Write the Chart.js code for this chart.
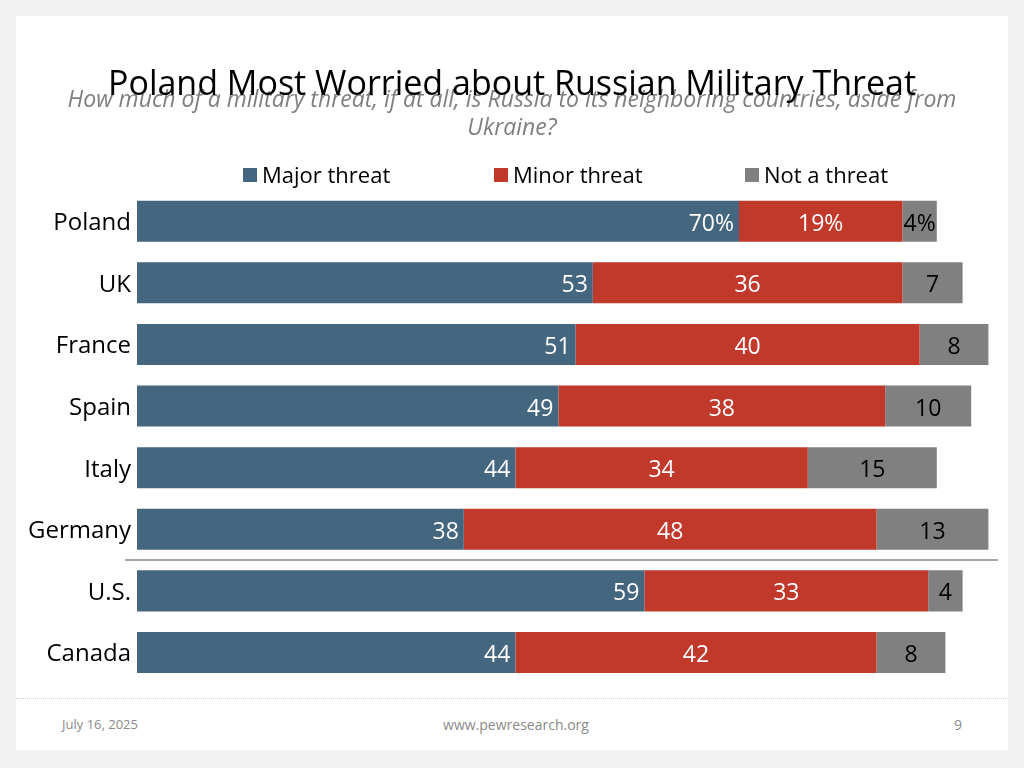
<!DOCTYPE html>
<html>
<head>
<meta charset="utf-8">
<script src="https://cdn.jsdelivr.net/npm/chart.js@4.4.1/dist/chart.umd.min.js"></script>
<style>
  html, body { margin: 0; padding: 0; background: #f2f2f2; }
  body { width: 1024px; height: 768px; position: relative; overflow: hidden; font-family: "Open Sans", sans-serif; }
  #slide { position: absolute; left: 16px; top: 16px; width: 992px; height: 734px; background: #fff; }
  #wrap { position: absolute; left: 0; top: 0; width: 1024px; height: 768px; }
  #rule { position: absolute; left: 16px; top: 698px; width: 992px; border-top: 1px dotted #d0d0d0; }
  .foot { position: absolute; top: 715px; color: #8a8a8a; font-size: 13px; }
</style>
</head>
<body>
<div id="slide"></div>
<div id="rule"></div>
<div class="foot" style="left:62px;">July 16, 2025</div>
<div class="foot" style="left:0; width:1032px; text-align:center; font-size:14px;">www.pewresearch.org</div>
<div class="foot" style="left:954px; font-size:14px;">9</div>
<div id="wrap"><canvas id="threatChart"></canvas></div>
<script>
// --- data ---
const countries = ["Poland", "UK", "France", "Spain", "Italy", "Germany", "U.S.", "Canada"];
const majorThreat = [70, 53, 51, 49, 44, 38, 59, 44];
const minorThreat = [19, 36, 40, 38, 34, 48, 33, 42];
const notThreat = [4, 7, 8, 10, 15, 13, 4, 8];
const seriesNames = ["Major threat", "Minor threat", "Not a threat"];

const BLUE = "#44677f";
const RED = "#c0392b";
const GRAY = "#808080";
const FONT = "'Open Sans', sans-serif";

// value labels inside each segment
const segmentLabels = {
  id: "segmentLabels",
  afterDatasetsDraw(chart) {
    const ctx = chart.ctx;
    ctx.save();
    ctx.font = "23px " + FONT;
    ctx.textBaseline = "middle";
    chart.data.datasets.forEach((ds, di) => {
      chart.getDatasetMeta(di).data.forEach((bar, i) => {
        const txt = ds.data[i] + (i === 0 ? "%" : "");
        const y = bar.y + 3;
        if (di === 0) {
          ctx.textAlign = "right";
          ctx.fillStyle = "#fff";
          ctx.fillText(txt, bar.x - 5, y);
        } else {
          ctx.textAlign = "center";
          ctx.fillStyle = di === 1 ? "#fff" : "#000";
          ctx.fillText(txt, (bar.x + bar.base) / 2, y);
        }
      });
    });
    ctx.restore();
  },
};

// grey rule between Europe and North America
const groupRule = {
  id: "groupRule",
  afterDatasetsDraw(chart) {
    const y = (chart.scales.y.getPixelForValue(5) + chart.scales.y.getPixelForValue(6)) / 2;
    const ctx = chart.ctx;
    ctx.save();
    ctx.strokeStyle = "#a6a6a6";
    ctx.lineWidth = 2;
    ctx.beginPath();
    ctx.moveTo(125, y);
    ctx.lineTo(chart.chartArea.right + 1, y);
    ctx.stroke();
    ctx.restore();
  },
};

// legend with wide, even spacing like the slide
const spacedLegend = {
  id: "spacedLegend",
  afterDraw(chart) {
    const ctx = chart.ctx;
    const startX = [243, 494, 745];
    ctx.save();
    ctx.font = "22px " + FONT;
    ctx.textBaseline = "middle";
    ctx.textAlign = "left";
    chart.data.datasets.forEach((ds, i) => {
      ctx.fillStyle = ds.backgroundColor;
      ctx.fillRect(startX[i], 168, 14, 14);
      ctx.fillStyle = "#000";
      ctx.fillText(ds.label, startX[i] + 19, 177);
    });
    ctx.restore();
  },
};

new Chart(document.getElementById("threatChart"), {
  type: "bar",
  data: {
    labels: countries,
    datasets: [
      { label: seriesNames[0], data: majorThreat, backgroundColor: BLUE },
      { label: seriesNames[1], data: minorThreat, backgroundColor: RED },
      { label: seriesNames[2], data: notThreat, backgroundColor: GRAY },
    ],
  },
  options: {
    indexAxis: "y",
    responsive: true,
    maintainAspectRatio: false,
    animation: false,
    barPercentage: 0.666,
    categoryPercentage: 1,
    layout: { padding: { left: 27, right: 27, top: 0, bottom: 84.7 } },
    scales: {
      x: { stacked: true, min: 0, max: 100, display: false },
      y: {
        stacked: true,
        grid: { display: false, drawTicks: false },
        border: { display: false },
        ticks: { color: "#000", font: { size: 24, family: FONT }, padding: 6, labelOffset: 2 },
        afterFit(scale) { scale.width = 110; },
      },
    },
    plugins: {
      legend: { display: false },
      tooltip: { enabled: false },
      title: {
        display: true,
        text: "Poland Most Worried about Russian Military Threat",
        color: "#000",
        font: { size: 34, family: FONT, weight: "normal", lineHeight: 1.2 },
        padding: { top: 65, bottom: -19 },
      },
      subtitle: {
        display: true,
        text: [
          "How much of a military threat, if at all, is Russia to its neighboring countries, aside from",
          "Ukraine?",
        ],
        color: "#7f7f7f",
        font: { size: 23, family: FONT, style: "italic", lineHeight: 1.22 },
        padding: { top: 0, bottom: 47.5 },
      },
    },
  },
  plugins: [segmentLabels, groupRule, spacedLegend],
});
</script>
</body>
</html>
